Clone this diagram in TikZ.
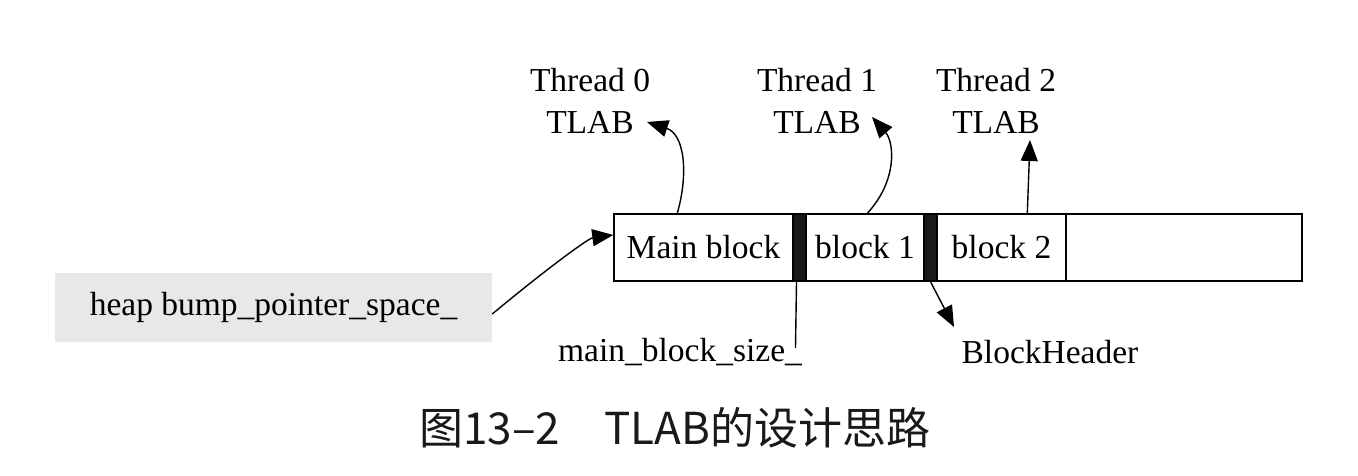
\documentclass[tikz,border=0pt]{standalone}
\usepackage{fontspec}
\setmainfont{Liberation Serif}
\newfontfamily\cjk{Noto Sans CJK SC}
\usetikzlibrary{arrows.meta}
\begin{document}
\begin{tikzpicture}[x=1pt,y=-1pt,
  lbl/.style={font=\fontsize{33.5}{42}\selectfont, inner sep=0pt, align=center},
  cell/.style={draw=black, line width=1.4pt, minimum height=67pt, inner sep=0pt, font=\fontsize{33.5}{40}\selectfont},
  barcell/.style={draw=black, fill=black!90, line width=1.4pt, minimum height=67pt, minimum width=13pt, inner sep=0pt},
  arr/.style={line width=1.4pt, -{Triangle[length=21pt,width=17pt]}},
  plain/.style={line width=1.4pt}]
\useasboundingbox (0,0) rectangle (1358,476);
% cells
\node[cell, minimum width=179pt] (mb) at (703.5,247.5) {Main block};
\node[barcell] (bar1) at (799.5,247.5) {};
\node[cell, minimum width=118pt] (b1) at (865,247.5) {block 1};
\node[barcell] (bar2) at (930.5,247.5) {};
\node[cell, minimum width=129pt] (b2) at (1001.5,247.5) {block 2};
\node[cell, minimum width=236pt] (free) at (1184,247.5) {};
% labels
\node[lbl] (t0) at (590,101) {Thread 0\\TLAB};
\node[lbl] (t1) at (817,101) {Thread 1\\TLAB};
\node[lbl] (t2) at (996,101) {Thread 2\\TLAB};
\node[lbl, fill=black!9, minimum width=437pt, minimum height=69pt] (heap) at (273.5,307) {heap bump\_pointer\_space\_};
\node[lbl] (mbs) at (680,352) {main\_block\_size\_};
\node[lbl] (bh) at (1050,352) {BlockHeader};
\node[inner sep=0pt, font=\fontsize{44}{50}\cjk, text=black!90] (cap) at (675,428) {图13–2\quad TLAB的设计思路};
% connectors
\draw[arr] ([xshift=64pt]mb.north west) .. controls (689,172) and (684,134) .. ([shift={(57pt,-21pt)}]t0.center);
\draw[arr] ([xshift=62pt]b1.north west) .. controls (898,180) and (894,142) .. ([shift={(55pt,-16pt)}]t1.center);
\draw[arr] ([xshift=91pt]b2.north west) -- ([shift={(34pt,-39pt)}]t2.center);
\draw[arr] ([yshift=-7pt]heap.east) .. controls (560,258) and (590,238) .. (mb.west |- 0,235);
\draw[plain] ([xshift=-3pt]bar1.south) -- ([xshift=-4pt]bar1.south |- 0,348);
\draw[arr] (bar2.south) -- (954,327);
\end{tikzpicture}
\end{document}
